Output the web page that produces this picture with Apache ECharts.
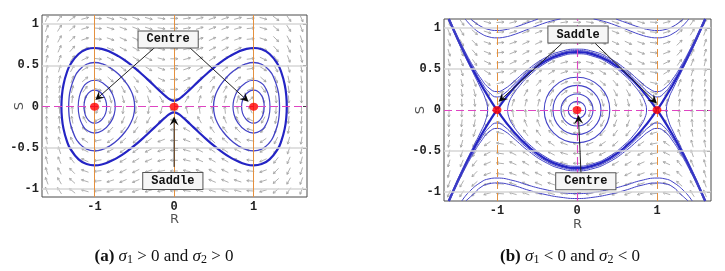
<!DOCTYPE html>
<html><head><meta charset="utf-8">
<script src="https://cdn.jsdelivr.net/npm/echarts@6/dist/echarts.min.js"></script>
<style>html,body{margin:0;padding:0;background:#fff}#c{width:725px;height:271px}</style>
</head><body><div id="c"></div>
<script>
// ---------- tick labels ----------
const xTicks = [-1, 0, 1];
const yTicks = [-1, -0.5, 0, 0.5, 1];
const equilibria = [[-1, 0], [0, 0], [1, 0]];

// ---------- direction field grid ----------
const arrowR = [-1.6,-1.44,-1.28,-1.12,-0.96,-0.8,-0.64,-0.48,-0.32,-0.16,0,0.16,0.32,0.48,0.64,0.8,0.96,1.12,1.28,1.44,1.6];
const arrowS = [1.07,0.95,0.82,0.70,0.58,0.46,0.33,0.21,0.09,-0.04,-0.16,-0.28,-0.41,-0.53,-0.65,-0.78,-0.90,-1.02];
// arrow directions in degrees, panel (a)
const arrowAngleA = [
[67,55,37,15,-4,-15,-19,-19,-15,-8,0,8,15,19,19,15,4,-15,-37,-55,-67],
[69,58,41,17,-5,-17,-21,-21,-17,-9,0,9,17,21,21,17,5,-17,-41,-58,-69],
[72,62,45,19,-5,-19,-25,-25,-19,-11,0,11,19,25,25,19,5,-19,-45,-62,-72],
[74,66,49,22,-6,-22,-28,-28,-22,-13,0,13,22,28,28,22,6,-22,-49,-66,-74],
[77,69,55,26,-7,-26,-33,-33,-26,-15,0,15,26,33,33,26,7,-26,-55,-69,-77],
[80,73,61,32,-9,-32,-39,-39,-32,-19,0,19,32,39,39,32,9,-32,-61,-73,-80],
[83,78,68,41,-13,-41,-49,-49,-41,-25,0,25,41,49,49,41,13,-41,-68,-78,-83],
[85,82,76,54,-20,-54,-61,-61,-54,-37,0,37,54,61,61,54,20,-54,-76,-82,-85],
[88,87,84,73,-40,-73,-76,-76,-73,-60,0,60,73,76,76,73,40,-73,-84,-87,-88],
[91,92,93,98,242,262,264,264,262,256,180,104,98,96,96,98,118,262,267,268,269],
[94,96,101,119,205,241,247,247,241,224,180,136,119,113,113,119,155,241,259,264,266],
[96,100,109,134,195,226,233,233,226,209,180,151,134,127,127,134,165,226,251,260,264],
[99,105,117,145,190,215,222,222,215,201,180,159,145,138,138,145,170,215,243,255,261],
[102,109,123,152,188,208,215,215,208,196,180,164,152,145,145,152,172,208,237,251,258],
[105,113,128,156,187,204,210,210,204,194,180,166,156,150,150,156,173,204,232,247,255],
[107,117,134,160,186,200,206,206,200,191,180,169,160,154,154,160,174,200,226,243,253],
[110,120,138,162,185,198,203,203,198,190,180,170,162,157,157,162,175,198,222,240,250],
[112,123,141,164,184,196,200,200,196,189,180,171,164,160,160,164,176,196,219,237,248]
];
// arrow directions in degrees, panel (b)
const arrowAngleB = [
[-67,-55,-37,-15,4,15,19,19,15,8,0,-8,-15,-19,-19,-15,-4,15,37,55,67],
[-69,-58,-41,-17,5,17,21,21,17,9,0,-9,-17,-21,-21,-17,-5,17,41,58,69],
[-72,-62,-45,-19,5,19,25,25,19,11,0,-11,-19,-25,-25,-19,-5,19,45,62,72],
[-74,-66,-49,-22,6,22,28,28,22,13,0,-13,-22,-28,-28,-22,-6,22,49,66,74],
[-77,-69,-55,-26,7,26,33,33,26,15,0,-15,-26,-33,-33,-26,-7,26,55,69,77],
[-80,-73,-61,-32,9,32,39,39,32,19,0,-19,-32,-39,-39,-32,-9,32,61,73,80],
[-83,-78,-68,-41,13,41,49,49,41,25,0,-25,-41,-49,-49,-41,-13,41,68,78,83],
[-85,-82,-76,-54,20,54,61,61,54,37,0,-37,-54,-61,-61,-54,-20,54,76,82,85],
[-88,-87,-84,-73,40,73,76,76,73,60,0,-60,-73,-76,-76,-73,-40,73,84,87,88],
[269,268,267,262,118,98,96,96,98,104,180,256,262,264,264,262,242,98,93,92,91],
[266,264,259,241,155,119,113,113,119,136,180,224,241,247,247,241,205,119,101,96,94],
[264,260,251,226,165,134,127,127,134,151,180,209,226,233,233,226,195,134,109,100,96],
[261,255,243,215,170,145,138,138,145,159,180,201,215,222,222,215,190,145,117,105,99],
[258,251,237,208,172,152,145,145,152,164,180,196,208,215,215,208,188,152,123,109,102],
[255,247,232,204,173,156,150,150,156,166,180,194,204,210,210,204,187,156,128,113,105],
[253,243,226,200,174,160,154,154,160,169,180,191,200,206,206,200,186,160,134,117,107],
[250,240,222,198,175,162,157,157,162,170,180,190,198,203,203,198,185,162,138,120,110],
[248,237,219,196,176,164,160,160,164,171,180,189,196,200,200,196,184,164,141,123,112]
];

// ---------- panel (a) trajectories ----------
const orbitA_outer = [[-1.416,0],[-1.41,0.129],[-1.39,0.266],[-1.35,0.408],[-1.3,0.517],[-1.2,0.639],[-1.1,0.695],[-1.0,0.711],[-0.9,0.698],[-0.8,0.663],[-0.7,0.612],[-0.6,0.548],[-0.5,0.473],[-0.4,0.39],[-0.3,0.301],[-0.2,0.21],[-0.1,0.122],[-0.05,0.086],[0,0.07],[0.05,0.086],[0.1,0.122],[0.2,0.21],[0.3,0.301],[0.4,0.39],[0.5,0.473],[0.6,0.548],[0.7,0.612],[0.8,0.663],[0.9,0.698],[1.0,0.711],[1.1,0.695],[1.2,0.639],[1.3,0.517],[1.35,0.408],[1.39,0.266],[1.41,0.129],[1.416,0],[1.41,-0.129],[1.39,-0.266],[1.35,-0.408],[1.3,-0.517],[1.2,-0.639],[1.1,-0.695],[1.0,-0.711],[0.9,-0.698],[0.8,-0.663],[0.7,-0.612],[0.6,-0.548],[0.5,-0.473],[0.4,-0.39],[0.3,-0.301],[0.2,-0.21],[0.1,-0.122],[0.05,-0.086],[0,-0.07],[-0.05,-0.086],[-0.1,-0.122],[-0.2,-0.21],[-0.3,-0.301],[-0.4,-0.39],[-0.5,-0.473],[-0.6,-0.548],[-0.7,-0.612],[-0.8,-0.663],[-0.9,-0.698],[-1.0,-0.711],[-1.1,-0.695],[-1.2,-0.639],[-1.3,-0.517],[-1.35,-0.408],[-1.39,-0.266],[-1.41,-0.129],[-1.416,0]];
const orbitA_R1 = [[0.848,0],[0.86,0.078],[0.9,0.148],[0.95,0.188],[1.0,0.2],[1.05,0.186],[1.1,0.134],[1.125,0.066],[1.132,0],[1.125,-0.066],[1.1,-0.134],[1.05,-0.186],[1.0,-0.2],[0.95,-0.188],[0.9,-0.148],[0.86,-0.078],[0.848,0]];
const orbitA_R2 = [[0.74,0],[0.75,0.082],[0.8,0.194],[0.9,0.29],[1.0,0.32],[1.1,0.284],[1.15,0.224],[1.19,0.126],[1.205,0],[1.19,-0.126],[1.15,-0.224],[1.1,-0.284],[1.0,-0.32],[0.9,-0.29],[0.8,-0.194],[0.75,-0.082],[0.74,0]];
const orbitA_R3 = [[0.495,0],[0.51,0.111],[0.55,0.207],[0.6,0.285],[0.7,0.395],[0.8,0.47],[0.9,0.518],[1.0,0.535],[1.1,0.514],[1.2,0.435],[1.25,0.357],[1.3,0.219],[1.32,0.102],[1.325,0],[1.32,-0.102],[1.3,-0.219],[1.25,-0.357],[1.2,-0.435],[1.1,-0.514],[1.0,-0.535],[0.9,-0.518],[0.8,-0.47],[0.7,-0.395],[0.6,-0.285],[0.55,-0.207],[0.51,-0.111],[0.495,0]];
const orbitA_L1 = [[-0.848,0],[-0.86,0.078],[-0.9,0.148],[-0.95,0.188],[-1.0,0.2],[-1.05,0.186],[-1.1,0.134],[-1.125,0.066],[-1.132,0],[-1.125,-0.066],[-1.1,-0.134],[-1.05,-0.186],[-1.0,-0.2],[-0.95,-0.188],[-0.9,-0.148],[-0.86,-0.078],[-0.848,0]];
const orbitA_L2 = [[-0.74,0],[-0.75,0.082],[-0.8,0.194],[-0.9,0.29],[-1.0,0.32],[-1.1,0.284],[-1.15,0.224],[-1.19,0.126],[-1.205,0],[-1.19,-0.126],[-1.15,-0.224],[-1.1,-0.284],[-1.0,-0.32],[-0.9,-0.29],[-0.8,-0.194],[-0.75,-0.082],[-0.74,0]];
const orbitA_L3 = [[-0.495,0],[-0.51,0.111],[-0.55,0.207],[-0.6,0.285],[-0.7,0.395],[-0.8,0.47],[-0.9,0.518],[-1.0,0.535],[-1.1,0.514],[-1.2,0.435],[-1.25,0.357],[-1.3,0.219],[-1.32,0.102],[-1.325,0],[-1.32,-0.102],[-1.3,-0.219],[-1.25,-0.357],[-1.2,-0.435],[-1.1,-0.514],[-1.0,-0.535],[-0.9,-0.518],[-0.8,-0.47],[-0.7,-0.395],[-0.6,-0.285],[-0.55,-0.207],[-0.51,-0.111],[-0.495,0]];

// ---------- panel (b) trajectories ----------
const sepB_upper = [[-1.603,-1.11],[-1.5,-0.884],[-1.4,-0.679],[-1.3,-0.488],[-1.2,-0.311],[-1.1,-0.148],[-1.0,0],[-0.8,0.255],[-0.6,0.453],[-0.4,0.594],[-0.2,0.679],[0,0.707],[0.2,0.679],[0.4,0.594],[0.6,0.453],[0.8,0.255],[1.0,0],[1.1,-0.148],[1.2,-0.311],[1.3,-0.488],[1.4,-0.679],[1.5,-0.884],[1.603,-1.11]];
const sepB_lower = [[-1.603,1.11],[-1.5,0.884],[-1.4,0.679],[-1.3,0.488],[-1.2,0.311],[-1.1,0.148],[-1.0,0],[-0.8,-0.255],[-0.6,-0.453],[-0.4,-0.594],[-0.2,-0.679],[0,-0.707],[0.2,-0.679],[0.4,-0.594],[0.6,-0.453],[0.8,-0.255],[1.0,0],[1.1,0.148],[1.2,0.311],[1.3,0.488],[1.4,0.679],[1.5,0.884],[1.603,1.11]];
const orbitB_eye = [[-0.869,0],[-0.85,0.092],[-0.8,0.187],[-0.7,0.316],[-0.6,0.418],[-0.4,0.568],[-0.2,0.656],[0,0.686],[0.2,0.656],[0.4,0.568],[0.6,0.418],[0.7,0.316],[0.8,0.187],[0.85,0.092],[0.869,0],[0.85,-0.092],[0.8,-0.187],[0.7,-0.316],[0.6,-0.418],[0.4,-0.568],[0.2,-0.656],[0,-0.686],[-0.2,-0.656],[-0.4,-0.568],[-0.6,-0.418],[-0.7,-0.316],[-0.8,-0.187],[-0.85,-0.092],[-0.869,0]];
const orbitB_sideL = [[-1.609,1.11],[-1.6,1.089],[-1.5,0.867],[-1.4,0.656],[-1.3,0.456],[-1.2,0.258],[-1.15,0.148],[-1.118,0],[-1.15,-0.148],[-1.2,-0.258],[-1.3,-0.456],[-1.4,-0.656],[-1.5,-0.867],[-1.6,-1.089],[-1.609,-1.11]];
const orbitB_sideR = [[1.609,1.11],[1.6,1.089],[1.5,0.867],[1.4,0.656],[1.3,0.456],[1.2,0.258],[1.15,0.148],[1.118,0],[1.15,-0.148],[1.2,-0.258],[1.3,-0.456],[1.4,-0.656],[1.5,-0.867],[1.6,-1.089],[1.609,-1.11]];
const orbitB_up1 = [[-1.593,1.11],[-1.5,0.912],[-1.4,0.715],[-1.3,0.537],[-1.2,0.383],[-1.1,0.268],[-1.0,0.224],[-0.9,0.261],[-0.8,0.339],[-0.6,0.505],[-0.4,0.635],[-0.2,0.715],[0,0.742],[0.2,0.715],[0.4,0.635],[0.6,0.505],[0.8,0.339],[0.9,0.261],[1.0,0.224],[1.1,0.268],[1.2,0.383],[1.3,0.537],[1.4,0.715],[1.5,0.912],[1.593,1.11]];
const orbitB_up2 = [[-1.598,1.11],[-1.5,0.898],[-1.4,0.697],[-1.3,0.513],[-1.2,0.349],[-1.1,0.217],[-1.0,0.158],[-0.9,0.207],[-0.8,0.30],[-0.6,0.479],[-0.4,0.615],[-0.2,0.697],[0,0.725],[0.2,0.697],[0.4,0.615],[0.6,0.479],[0.8,0.30],[0.9,0.207],[1.0,0.158],[1.1,0.217],[1.2,0.349],[1.3,0.513],[1.4,0.697],[1.5,0.898],[1.598,1.11]];
const orbitB_low1 = [[-1.593,-1.11],[-1.5,-0.912],[-1.4,-0.715],[-1.3,-0.537],[-1.2,-0.383],[-1.1,-0.268],[-1.0,-0.224],[-0.9,-0.261],[-0.8,-0.339],[-0.6,-0.505],[-0.4,-0.635],[-0.2,-0.715],[0,-0.742],[0.2,-0.715],[0.4,-0.635],[0.6,-0.505],[0.8,-0.339],[0.9,-0.261],[1.0,-0.224],[1.1,-0.268],[1.2,-0.383],[1.3,-0.537],[1.4,-0.715],[1.5,-0.912],[1.593,-1.11]];
const orbitB_low2 = [[-1.598,-1.11],[-1.5,-0.898],[-1.4,-0.697],[-1.3,-0.513],[-1.2,-0.349],[-1.1,-0.217],[-1.0,-0.158],[-0.9,-0.207],[-0.8,-0.30],[-0.6,-0.479],[-0.4,-0.615],[-0.2,-0.697],[0,-0.725],[0.2,-0.697],[0.4,-0.615],[0.6,-0.479],[0.8,-0.30],[0.9,-0.207],[1.0,-0.158],[1.1,-0.217],[1.2,-0.349],[1.3,-0.513],[1.4,-0.697],[1.5,-0.898],[1.598,-1.11]];
const orbitB_topL1 = [[-1.328,1.11],[-1.3,1.086],[-1.2,1.019],[-1.1,0.981],[-1.0,0.97],[-0.9,0.979],[-0.8,1.003],[-0.7,1.035],[-0.6,1.07],[-0.5,1.105],[-0.487,1.11]];
const orbitB_topR1 = [[0.487,1.11],[0.5,1.105],[0.6,1.07],[0.7,1.035],[0.8,1.003],[0.9,0.979],[1.0,0.97],[1.1,0.981],[1.2,1.019],[1.3,1.086],[1.328,1.11]];
const orbitB_topL2 = [[-1.398,1.11],[-1.3,1.006],[-1.2,0.933],[-1.1,0.892],[-1.0,0.88],[-0.9,0.89],[-0.8,0.916],[-0.7,0.951],[-0.6,0.99],[-0.5,1.027],[-0.4,1.062],[-0.3,1.09],[-0.208,1.11]];
const orbitB_topR2 = [[0.208,1.11],[0.3,1.09],[0.4,1.062],[0.5,1.027],[0.6,0.99],[0.7,0.951],[0.8,0.916],[0.9,0.89],[1.0,0.88],[1.1,0.892],[1.2,0.933],[1.3,1.006],[1.398,1.11]];
const orbitB_bot1 = [[-1.44,-1.11],[-1.35,-1.0],[-1.2,-0.88],[-1.1,-0.84],[-1.0,-0.83],[-0.8,-0.86],[-0.6,-0.92],[-0.4,-0.97],[-0.2,-1.005],[0,-1.02],[0.2,-1.005],[0.4,-0.97],[0.6,-0.92],[0.8,-0.86],[1.0,-0.83],[1.1,-0.84],[1.2,-0.88],[1.35,-1.0],[1.44,-1.11]];
const orbitB_bot2 = [[-1.39,-1.11],[-1.3,-1.03],[-1.2,-0.94],[-1.1,-0.9],[-1.0,-0.89],[-0.8,-0.92],[-0.6,-0.98],[-0.4,-1.03],[-0.2,-1.065],[0,-1.08],[0.2,-1.065],[0.4,-1.03],[0.6,-0.98],[0.8,-0.92],[1.0,-0.89],[1.1,-0.9],[1.2,-0.94],[1.3,-1.03],[1.39,-1.11]];
// closed orbits round the centre of (b): [centreR, centreS, radiusR, radiusS]
const ringsB = [[0,0,0.11,0.105],[0,0,0.2,0.195],[0,0,0.3,0.30],[0,0,0.41,0.40]];

// ---------- annotations ----------
const labelPosA = [[-0.075,0.815],[-0.016,-0.90]];
const labelTextA = ['Centre','Saddle'];
const pointerA = [[-0.24,0.72,-0.99,0.08],[0.18,0.73,0.935,0.06],[0,-0.73,0,-0.12]];
const labelPosB = [[0.0125,0.92],[0.11,-0.87]];
const labelTextB = ['Saddle','Centre'];
const pointerB = [[-0.19,0.81,-0.98,0.10],[0.22,0.82,1.0,0.08],[0.05,-0.77,0.017,-0.06]];

// ================= drawing =================
const MONO = "'Liberation Mono','DejaVu Sans Mono',monospace";
const BLUE_T = '#2424c4', BLUE = '#4343c6';
const ORANGE = '#e5913f', MAGENTA = '#de45c2', GREYLINE = '#d6d6d6';

function buildField(angles){
  const out = [];
  arrowS.forEach((s,i)=>arrowR.forEach((r,j)=>out.push([r,s,angles[i][j]])));
  return out;
}
function renderField(params, api){
  const p = api.coord([api.value(0), api.value(1)]);
  const t = api.value(2)*Math.PI/180;
  const ux = Math.cos(t), uy = -Math.sin(t);
  const L = 7.5;
  const tail = [p[0]-ux*L/2, p[1]-uy*L/2], tip = [p[0]+ux*L/2, p[1]+uy*L/2];
  const h = 2.6, c = Math.cos(0.5), s = Math.sin(0.5);
  const b1 = [tip[0]-h*(ux*c - uy*s), tip[1]-h*(uy*c + ux*s)];
  const b2 = [tip[0]-h*(ux*c + uy*s), tip[1]-h*(uy*c - ux*s)];
  const st = {stroke:'#a2a2a2', lineWidth:0.85, fill:null};
  return {type:'group', children:[
    {type:'polyline', shape:{points:[tail,tip]}, style:st},
    {type:'polyline', shape:{points:[b1,tip,b2]}, style:st}
  ]};
}
function renderRing(params, api){
  const c = api.coord([api.value(0), api.value(1)]);
  const sz = api.size([api.value(2), api.value(3)]);
  return {type:'ellipse', shape:{cx:c[0], cy:c[1], rx:sz[0], ry:sz[1]}, style:{fill:null, stroke:BLUE, lineWidth:1.1}};
}
function renderPointer(params, api){
  const a = api.coord([api.value(0), api.value(1)]);
  const b = api.coord([api.value(2), api.value(3)]);
  const dx=b[0]-a[0], dy=b[1]-a[1], L=Math.hypot(dx,dy), ux=dx/L, uy=dy/L, px=-uy, py=ux;
  const hl=9, hw=4.5, notch=5.5;
  const bk=[b[0]-ux*hl, b[1]-uy*hl];
  return {type:'group', children:[
    {type:'line', shape:{x1:a[0],y1:a[1],x2:b[0]-ux*notch,y2:b[1]-uy*notch}, style:{stroke:'#222', lineWidth:1}},
    {type:'polygon', shape:{points:[[b[0],b[1]],[bk[0]+px*hw,bk[1]+py*hw],[b[0]-ux*notch,b[1]-uy*notch],[bk[0]-px*hw,bk[1]-py*hw]]}, style:{fill:'#0a0a0a'}}
  ]};
}
function makeLabelRenderer(texts){
  return function(params, api){
    const p = api.coord([api.value(0), api.value(1)]);
    return {type:'text', x:p[0], y:p[1], style:{text:texts[params.dataIndex], font:"bold 12px "+MONO, fill:'#111',
      align:'center', verticalAlign:'middle', backgroundColor:'#f6f6f6', borderColor:'#555', borderWidth:1, padding:[2,8,2,8]}};
  };
}
function curve(data, idx, w, color){
  return {type:'line', xAxisIndex:idx, yAxisIndex:idx, data, showSymbol:false, smooth:0.5, silent:true,
    lineStyle:{width:w, color}, z:4};
}
function refLines(idx, items){
  return {type:'line', xAxisIndex:idx, yAxisIndex:idx, data:equilibria, showSymbol:false, silent:true,
    lineStyle:{opacity:0}, z:2,
    markLine:{silent:true, symbol:['none','none'], label:{show:false}, animation:false, data:items}};
}
const fmt = v => String(v);
function xAxisCfg(gi, min, max, gap){
  return {type:'value', gridIndex:gi, min, max, name:'R', nameLocation:'middle', nameGap:gap, nameMoveOverlap:false,
    nameTextStyle:{fontFamily:'DejaVu Sans', fontSize:13, color:'#555'},
    axisLine:{show:false}, splitLine:{show:false},
    axisTick:{show:true, inside:true, length:3, customValues:xTicks, lineStyle:{color:'#444'}},
    axisLabel:{customValues:xTicks, formatter:fmt, fontFamily:MONO, fontWeight:'bold', fontSize:12, color:'#222', margin:4}};
}
function yAxisCfg(gi, min, max, gap){
  return {type:'value', gridIndex:gi, min, max, position:'left', name:'S', nameLocation:'middle', nameGap:gap, nameMoveOverlap:false,
    nameTextStyle:{fontFamily:'DejaVu Sans', fontSize:13, color:'#555'},
    axisLine:{show:false}, splitLine:{show:false},
    axisTick:{show:true, inside:true, length:4, customValues:yTicks, lineStyle:{color:'#444'}},
    axisLabel:{customValues:yTicks, formatter:fmt, fontFamily:MONO, fontWeight:'bold', fontSize:12, color:'#222', margin:3}};
}
function yAxisRight(gi, min, max){
  return {type:'value', gridIndex:gi, min, max, position:'right',
    axisLine:{show:false}, splitLine:{show:false}, axisLabel:{show:false},
    axisTick:{show:true, inside:true, length:4, customValues:yTicks, lineStyle:{color:'#444'}}};
}
const gl = v => ({yAxis:v, lineStyle:{color:GREYLINE, width:1.5, type:'solid'}});
const capRich = {
  b:{fontWeight:'bold', fontFamily:'Liberation Serif', fontSize:17},
  i:{fontStyle:'italic', fontFamily:'Liberation Serif', fontSize:17},
  s:{fontFamily:'Liberation Serif', fontSize:12, verticalAlign:'bottom', lineHeight:12}
};

const option = {
  animation:false,
  backgroundColor:'#fff',
  grid:[
    {left:42, top:15, width:265, height:182, show:true, borderColor:'#4a4a4a', borderWidth:1, backgroundColor:'#fff'},
    {left:444, top:19, width:267, height:182, show:true, borderColor:'#4a4a4a', borderWidth:1, backgroundColor:'#fff'}
  ],
  xAxis:[xAxisCfg(0,-1.66,1.67,16), xAxisCfg(1,-1.6625,1.675,17)],
  yAxis:[yAxisCfg(0,-1.095,1.111,16), yAxisCfg(1,-1.11,1.11,17), yAxisRight(0,-1.095,1.111), yAxisRight(1,-1.11,1.11)],
  series:[
    {type:'custom', xAxisIndex:0, yAxisIndex:0, data:buildField(arrowAngleA), renderItem:renderField, encode:{x:0,y:1}, silent:true, z:1},
    {type:'custom', xAxisIndex:1, yAxisIndex:1, data:buildField(arrowAngleB), renderItem:renderField, encode:{x:0,y:1}, silent:true, z:1},
    refLines(0, [gl(1),gl(0.5),gl(-0.5),gl(-1),
      {xAxis:-1, lineStyle:{color:ORANGE, width:1, type:'solid'}},
      {xAxis:0, lineStyle:{color:ORANGE, width:1, type:'solid'}},
      {xAxis:1, lineStyle:{color:ORANGE, width:1, type:'solid'}},
      {yAxis:0, lineStyle:{color:MAGENTA, width:1.1, type:[8,4]}}]),
    refLines(1, [gl(1),gl(0.5),gl(-0.5),gl(-1),
      {xAxis:-1, lineStyle:{color:ORANGE, width:1, type:[8,4]}},
      {xAxis:1, lineStyle:{color:ORANGE, width:1, type:[8,4]}},
      {xAxis:0, lineStyle:{color:MAGENTA, width:1.1, type:[8,4]}},
      {yAxis:0, lineStyle:{color:MAGENTA, width:1.1, type:[8,4]}}]),
    curve(orbitA_outer,0,2.2,BLUE_T),
    curve(orbitA_L1,0,1.2,BLUE), curve(orbitA_L2,0,1.2,BLUE), curve(orbitA_L3,0,1.3,BLUE),
    curve(orbitA_R1,0,1.2,BLUE), curve(orbitA_R2,0,1.2,BLUE), curve(orbitA_R3,0,1.3,BLUE),
    curve(sepB_upper,1,2.2,BLUE_T), curve(sepB_lower,1,2.2,BLUE_T),
    curve(orbitB_eye,1,1,BLUE), curve(orbitB_sideL,1,1,BLUE), curve(orbitB_sideR,1,1,BLUE),
    curve(orbitB_up1,1,1,BLUE), curve(orbitB_up2,1,1,BLUE), curve(orbitB_low1,1,1,BLUE), curve(orbitB_low2,1,1,BLUE),
    curve(orbitB_topL1,1,1,BLUE), curve(orbitB_topR1,1,1,BLUE), curve(orbitB_topL2,1,1,BLUE), curve(orbitB_topR2,1,1,BLUE),
    curve(orbitB_bot1,1,1,BLUE), curve(orbitB_bot2,1,1,BLUE),
    {type:'custom', xAxisIndex:1, yAxisIndex:1, data:ringsB, renderItem:renderRing, encode:{x:0,y:1}, silent:true, z:4},
    {type:'scatter', xAxisIndex:0, yAxisIndex:0, data:equilibria, symbolSize:[9,8], itemStyle:{color:'#ff0000'}, silent:true, z:8},
    {type:'scatter', xAxisIndex:1, yAxisIndex:1, data:equilibria, symbolSize:[9,8], itemStyle:{color:'#ff0000'}, silent:true, z:8},
    {type:'custom', xAxisIndex:0, yAxisIndex:0, data:pointerA, renderItem:renderPointer, encode:{x:[0,2],y:[1,3]}, silent:true, z:9},
    {type:'custom', xAxisIndex:1, yAxisIndex:1, data:pointerB, renderItem:renderPointer, encode:{x:[0,2],y:[1,3]}, silent:true, z:9},
    {type:'custom', xAxisIndex:0, yAxisIndex:0, data:labelPosA, renderItem:makeLabelRenderer(labelTextA), encode:{x:0,y:1}, silent:true, z:10},
    {type:'custom', xAxisIndex:1, yAxisIndex:1, data:labelPosB, renderItem:makeLabelRenderer(labelTextB), encode:{x:0,y:1}, silent:true, z:10}
  ],
  graphic:[
    {type:'text', x:164, y:257, style:{text:'{b|(a)} {i|σ}{s|1} > 0 and {i|σ}{s|2} > 0', font:"17px 'Liberation Serif'", fill:'#111', align:'center', verticalAlign:'middle', rich:capRich}},
    {type:'text', x:570, y:257, style:{text:'{b|(b)} {i|σ}{s|1} < 0 and {i|σ}{s|2} < 0', font:"17px 'Liberation Serif'", fill:'#111', align:'center', verticalAlign:'middle', rich:capRich}}
  ]
};
const chart = echarts.init(document.getElementById('c'), null, {renderer:'canvas', width:725, height:271});
chart.setOption(option);
</script></body></html>
